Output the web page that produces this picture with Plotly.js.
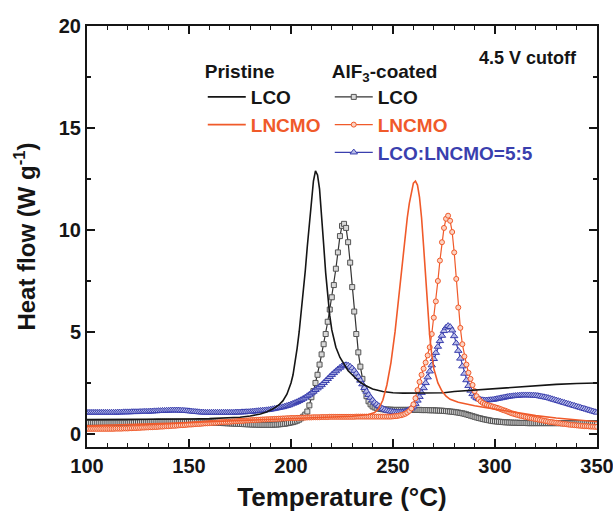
<!DOCTYPE html>
<html><head><meta charset="utf-8">
<script src="https://cdn.plot.ly/plotly-3.0.1.min.js"></script>
<style>html,body{margin:0;padding:0;background:#fff}#chart{width:613px;height:514px}</style>
</head><body><div id="chart"></div>
<script>
// Temperature grid of the marker series (°C)
const tempGrid = [
100,101,102,103,104,105,106,107,108,109,
110,111,112,113,114,115,116,117,118,119,
120,121,122,123,124,125,126,127,128,129,
130,131,132,133,134,135,136,137,138,139,
140,141,142,143,144,145,146,147,148,149,
150,151,152,153,154,155,156,157,158,159,
160,161,162,163,164,165,166,167,168,169,
170,171,172,173,174,175,176,177,178,179,
180,181,182,183,184,185,186,187,188,189,
190,191,192,193,194,195,196,197,198,199,
200,201,202,203,204,205,206,207,208,209,
210,211,212,213,214,215,216,217,218,219,
220,221,222,223,224,225,226,227,228,229,
230,231,232,233,234,235,236,237,238,239,
240,241,242,243,244,245,246,247,248,249,
250,251,252,253,254,255,256,257,258,259,
260,261,262,263,264,265,266,267,268,269,
270,271,272,273,274,275,276,277,278,279,
280,281,282,283,284,285,286,287,288,289,
290,291,292,293,294,295,296,297,298,299,
300,301,302,303,304,305,306,307,308,309,
310,311,312,313,314,315,316,317,318,319,
320,321,322,323,324,325,326,327,328,329,
330,331,332,333,334,335,336,337,338,339,
340,341,342,343,344,345,346,347,348,349,
350];

// AlF3-coated LCO (squares)
const coatedLCO = [
0.55,0.55,0.55,0.55,0.55,0.55,0.55,0.55,0.55,0.55,
0.55,0.55,0.55,0.55,0.55,0.55,0.55,0.55,0.55,0.55,
0.55,0.56,0.56,0.56,0.57,0.57,0.57,0.58,0.58,0.58,
0.58,0.59,0.59,0.59,0.60,0.60,0.60,0.60,0.60,0.60,
0.60,0.60,0.60,0.60,0.60,0.60,0.60,0.60,0.60,0.60,
0.60,0.60,0.59,0.59,0.59,0.58,0.58,0.58,0.57,0.57,
0.57,0.56,0.56,0.55,0.55,0.54,0.54,0.53,0.53,0.52,
0.52,0.51,0.51,0.50,0.50,0.49,0.49,0.48,0.48,0.47,
0.47,0.46,0.46,0.46,0.45,0.45,0.45,0.45,0.45,0.45,
0.45,0.45,0.46,0.46,0.47,0.48,0.49,0.50,0.52,0.54,
0.56,0.58,0.61,0.65,0.70,0.77,0.85,0.95,1.10,1.40,
1.80,2.10,2.50,2.90,3.40,3.90,4.40,4.90,5.50,6.10,
6.70,7.30,8.10,8.90,9.70,10.20,10.30,10.10,9.40,8.40,
7.20,6.00,4.90,4.00,3.30,2.70,2.20,1.85,1.60,1.45,
1.35,1.30,1.26,1.24,1.22,1.21,1.20,1.20,1.19,1.19,
1.18,1.18,1.18,1.18,1.18,1.18,1.18,1.18,1.18,1.18,
1.18,1.18,1.18,1.18,1.17,1.17,1.17,1.17,1.16,1.16,
1.16,1.15,1.15,1.14,1.14,1.13,1.12,1.11,1.10,1.09,
1.08,1.06,1.05,1.03,1.01,0.99,0.96,0.93,0.90,0.87,
0.84,0.81,0.78,0.76,0.73,0.71,0.69,0.67,0.65,0.63,
0.62,0.61,0.60,0.59,0.58,0.57,0.57,0.56,0.56,0.55,
0.55,0.55,0.54,0.54,0.54,0.54,0.53,0.53,0.53,0.53,
0.53,0.53,0.53,0.53,0.53,0.53,0.53,0.53,0.53,0.53,
0.53,0.53,0.53,0.53,0.53,0.53,0.53,0.53,0.53,0.53,
0.53,0.53,0.53,0.53,0.53,0.53,0.53,0.53,0.53,0.53,
0.53];

// AlF3-coated LNCMO (circles)
const coatedLNCMO = [
0.25,0.25,0.25,0.25,0.25,0.25,0.25,0.25,0.25,0.25,
0.25,0.25,0.25,0.25,0.26,0.26,0.26,0.26,0.27,0.27,
0.27,0.28,0.28,0.29,0.29,0.30,0.30,0.31,0.31,0.32,
0.32,0.33,0.33,0.34,0.34,0.35,0.36,0.36,0.37,0.38,
0.38,0.39,0.40,0.40,0.41,0.42,0.43,0.43,0.44,0.45,
0.46,0.46,0.47,0.48,0.49,0.49,0.50,0.51,0.52,0.52,
0.53,0.54,0.55,0.55,0.56,0.57,0.58,0.58,0.59,0.60,
0.60,0.61,0.62,0.62,0.63,0.64,0.64,0.65,0.66,0.66,
0.67,0.68,0.68,0.69,0.69,0.70,0.71,0.71,0.72,0.72,
0.73,0.73,0.74,0.74,0.75,0.75,0.76,0.76,0.77,0.77,
0.78,0.78,0.78,0.79,0.79,0.80,0.80,0.80,0.81,0.81,
0.81,0.82,0.82,0.82,0.82,0.83,0.83,0.83,0.83,0.84,
0.84,0.84,0.84,0.84,0.84,0.84,0.84,0.84,0.84,0.84,
0.84,0.84,0.85,0.85,0.85,0.85,0.85,0.85,0.85,0.85,
0.85,0.85,0.85,0.85,0.85,0.85,0.85,0.85,0.85,0.85,
0.86,0.87,0.88,0.90,0.92,0.95,0.99,1.05,1.13,1.25,
1.45,1.75,2.15,2.55,2.90,3.20,3.50,3.85,4.25,4.90,
5.70,6.50,7.50,8.50,9.40,10.10,10.55,10.70,10.45,9.90,
8.90,7.60,6.20,5.20,4.40,3.80,3.40,3.00,2.70,2.40,
2.10,1.85,1.70,1.60,1.52,1.47,1.43,1.40,1.37,1.34,
1.31,1.28,1.25,1.21,1.17,1.14,1.10,1.06,1.02,0.99,
0.96,0.93,0.90,0.88,0.86,0.83,0.81,0.79,0.77,0.75,
0.73,0.71,0.69,0.67,0.65,0.63,0.61,0.59,0.58,0.56,
0.55,0.53,0.52,0.50,0.49,0.48,0.46,0.45,0.44,0.43,
0.42,0.41,0.40,0.39,0.38,0.38,0.37,0.36,0.36,0.35,
0.35];

// AlF3-coated LCO:LNCMO=5:5 (triangles)
const coatedBlend = [
1.05,1.05,1.05,1.05,1.05,1.05,1.05,1.05,1.05,1.05,
1.05,1.05,1.05,1.05,1.05,1.06,1.06,1.06,1.07,1.07,
1.07,1.07,1.08,1.08,1.08,1.08,1.09,1.09,1.10,1.10,
1.10,1.11,1.11,1.12,1.12,1.13,1.13,1.14,1.14,1.15,
1.15,1.16,1.16,1.16,1.16,1.16,1.15,1.15,1.14,1.13,
1.12,1.11,1.10,1.09,1.08,1.07,1.06,1.06,1.05,1.05,
1.05,1.05,1.05,1.05,1.05,1.05,1.05,1.05,1.05,1.05,
1.05,1.05,1.05,1.06,1.06,1.06,1.07,1.07,1.08,1.08,
1.09,1.10,1.11,1.12,1.13,1.14,1.15,1.16,1.17,1.18,
1.20,1.22,1.24,1.26,1.28,1.30,1.32,1.35,1.38,1.41,
1.45,1.49,1.53,1.57,1.62,1.67,1.73,1.79,1.86,1.93,
2.00,2.08,2.16,2.24,2.32,2.40,2.50,2.60,2.70,2.80,
2.90,2.99,3.08,3.17,3.25,3.32,3.36,3.38,3.36,3.30,
3.22,3.10,2.96,2.80,2.62,2.44,2.26,2.08,1.92,1.78,
1.65,1.54,1.45,1.37,1.30,1.24,1.19,1.15,1.12,1.10,
1.08,1.07,1.06,1.06,1.07,1.08,1.10,1.14,1.19,1.26,
1.35,1.48,1.64,1.82,2.02,2.25,2.50,2.78,3.07,3.37,
3.68,3.98,4.28,4.56,4.82,5.05,5.22,5.30,5.25,5.08,
4.80,4.45,4.08,3.70,3.32,2.96,2.64,2.36,2.13,1.96,
1.84,1.76,1.71,1.68,1.66,1.65,1.65,1.66,1.67,1.68,
1.70,1.72,1.74,1.76,1.78,1.80,1.82,1.84,1.85,1.86,
1.87,1.88,1.89,1.90,1.90,1.90,1.90,1.90,1.89,1.89,
1.88,1.87,1.85,1.83,1.81,1.79,1.77,1.74,1.71,1.68,
1.65,1.62,1.59,1.56,1.53,1.50,1.47,1.44,1.41,1.38,
1.35,1.32,1.29,1.26,1.23,1.20,1.17,1.14,1.11,1.08,
1.05];

// Pristine LCO (solid black)
const pristineLCO_T = [100,110,120,130,140,150,160,170,175,180,185,188,191,194,196,198,200,201,202,203,204,205,206,207,208,209,210,211,212,213,214,215,216,217,218,219,220,221,222,224,226,228,230,233,236,240,245,250,255,260,265,270,275,280,290,300,310,320,330,340,350];
const pristineLCO = [0.70,0.70,0.70,0.71,0.72,0.73,0.75,0.78,0.82,0.88,0.98,1.08,1.22,1.42,1.62,1.95,2.5,2.9,3.5,4.2,5.0,5.9,6.9,8.0,9.2,10.4,11.5,12.4,12.9,12.7,12.0,10.8,9.3,7.9,6.7,5.8,5.1,4.6,4.25,3.75,3.4,3.1,2.9,2.6,2.4,2.2,2.08,2.02,2.0,2.0,2.0,2.0,2.02,2.08,2.15,2.25,2.32,2.38,2.43,2.47,2.5];

// Pristine LNCMO (solid orange)
const pristineLNCMO_T = [100,120,140,160,180,200,220,230,238,241,243,245,247,249,251,253,255,257,258,259,260,261,262,263,264,265,266,267,268,269,270,272,274,276,278,282,286,290,295,300,310,320,330,340,350];
const pristineLNCMO = [0.40,0.45,0.52,0.60,0.68,0.75,0.82,0.87,0.95,1.05,1.25,1.65,2.4,3.5,5.0,6.9,8.9,10.6,11.3,11.9,12.3,12.4,12.2,11.6,10.6,9.2,7.6,6.0,4.8,3.9,3.2,2.5,2.1,1.85,1.7,1.55,1.45,1.38,1.3,1.22,1.05,0.9,0.78,0.68,0.6];

const xTicks = [100,150,200,250,300,350];
const yTicks = [0,5,10,15,20];

const BLACK = '#151515', ORANGE = '#f05a2a', BLUE = '#3a3fae', GREY = '#555555';
const FONT = 'Liberation Sans, Arial, sans-serif';

const traces = [
  {x: tempGrid, y: coatedLCO, type:'scatter', mode:'lines+markers', legend:'legend2',
   name:'<span style="color:'+BLACK+'">LCO</span>', legendgroup:'c1', legendrank:1,
   line:{color:'#333', width:1.2},
   marker:{symbol:'square', size:5, color:'#d8d8d8', line:{color:GREY, width:1}}},
  {x: tempGrid, y: coatedBlend, type:'scatter', mode:'lines+markers', legend:'legend2',
   name:'<span style="color:'+BLUE+'">LCO:LNCMO=5:5</span>', legendgroup:'c3', legendrank:3,
   line:{color:BLUE, width:1.2},
   marker:{symbol:'triangle-up', size:6.5, color:'#b9bde8', line:{color:BLUE, width:1}}},
  {x: tempGrid, y: coatedLNCMO, type:'scatter', mode:'lines+markers', legend:'legend2',
   name:'<span style="color:'+ORANGE+'">LNCMO</span>', legendgroup:'c2', legendrank:2,
   line:{color:ORANGE, width:1.2},
   marker:{symbol:'circle', size:5, color:'#fbd3c3', line:{color:ORANGE, width:1}}},
  {x: pristineLCO_T, y: pristineLCO, type:'scatter', mode:'lines', legend:'legend',
   name:'<span style="color:'+BLACK+'">LCO</span>', legendgroup:'p1', legendrank:1,
   line:{color:BLACK, width:1.6}},
  {x: pristineLNCMO_T, y: pristineLNCMO, type:'scatter', mode:'lines', legend:'legend',
   name:'<span style="color:'+ORANGE+'">LNCMO</span>', legendgroup:'p2', legendrank:2,
   line:{color:ORANGE, width:1.6}}
];

const legendCommon = {
  xanchor:'left', yanchor:'top', bgcolor:'rgba(0,0,0,0)', borderwidth:0,
  font:{family:FONT, size:19, weight:'bold', color:BLACK},
  traceorder:'grouped', tracegroupgap:0, itemwidth:38
};

const layout = {
  width:613, height:514,
  margin:{l:87, r:16, t:26, b:67},
  paper_bgcolor:'#fff', plot_bgcolor:'#fff',
  showlegend:true,
  font:{family:FONT, color:BLACK},
  xaxis:{
    range:[100,350], tickvals:xTicks, ticktext:xTicks.map(String),
    ticks:'inside', ticklen:8, tickwidth:1.5, tickcolor:BLACK,
    minor:{ticks:'inside', dtick:10, ticklen:4, tickwidth:1.2, tickcolor:BLACK},
    showline:true, linecolor:BLACK, linewidth:2, mirror:'ticks', showgrid:false, zeroline:false,
    ticklabeloverflow:'allow',
    tickfont:{family:FONT, size:20, weight:'bold', color:BLACK},
    title:{text:'Temperature (°C)', font:{family:FONT, size:26, weight:'bold', color:BLACK}, standoff:12}
  },
  yaxis:{
    range:[-0.64,20], tickvals:yTicks, ticktext:yTicks.map(String),
    ticks:'inside', ticklen:8, tickwidth:1.5, tickcolor:BLACK,
    minor:{ticks:'inside', dtick:2.5, ticklen:4, tickwidth:1.2, tickcolor:BLACK},
    showline:true, linecolor:BLACK, linewidth:2, mirror:'ticks', showgrid:false, zeroline:false,
    tickfont:{family:FONT, size:20, weight:'bold', color:BLACK},
    title:{text:'Heat flow (W g<sup>-1</sup>)', font:{family:FONT, size:24, weight:'bold', color:BLACK}, standoff:16}
  },
  legend: Object.assign({}, legendCommon, {x:0.227, y:0.935,
    title:{text:'Pristine', font:{family:FONT, size:19, weight:'bold', color:BLACK}}}),
  legend2: Object.assign({}, legendCommon, {x:0.476, y:0.935,
    title:{text:'AlF<sub>3</sub>-coated', font:{family:FONT, size:19, weight:'bold', color:BLACK}}}),
  annotations:[
    {xref:'paper', yref:'paper', x:0.865, y:0.925, text:'4.5 V cutoff', showarrow:false,
     font:{family:FONT, size:18, weight:'bold', color:BLACK}, xanchor:'center', yanchor:'middle'}
  ]
};

Plotly.newPlot('chart', traces, layout, {displayModeBar:false, staticPlot:true});
</script>
</body></html>
